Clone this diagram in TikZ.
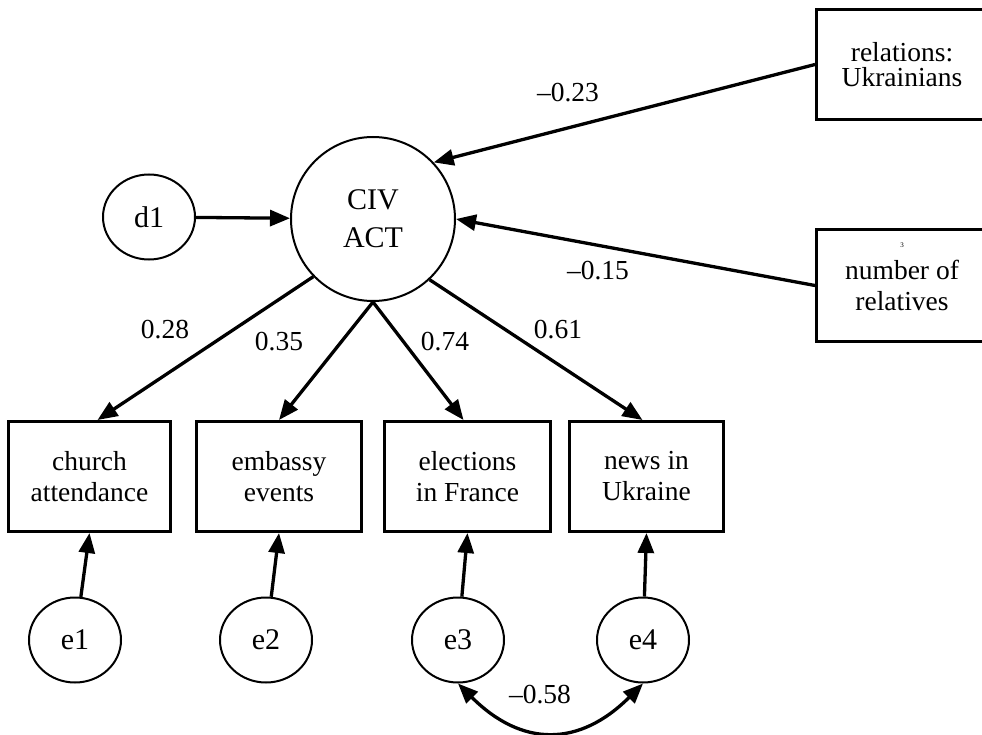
\documentclass[tikz,border=0pt]{standalone}
\usepackage{fontspec}
\setmainfont{Liberation Serif}
\usetikzlibrary{arrows.meta,positioning,shapes.geometric}

\begin{document}
\begin{tikzpicture}[x=1pt,y=-1pt,
    var/.style={rectangle,draw,line width=3pt,minimum height=110pt,inner sep=0pt,align=center,font=\fontsize{27.5}{31}\selectfont},
    err/.style={ellipse,draw,line width=2pt,minimum width=92pt,minimum height=85pt,inner sep=0pt,font=\fontsize{30}{31}\selectfont},
    coef/.style={font=\fontsize{27.5}{31}\selectfont},
    arr/.style={->,line width=3.3pt},
    >={Triangle[length=20pt,width=16pt]}]
    \useasboundingbox (0,0) rectangle (982,735);
    % latent variable and its disturbance
    \node(civ)[circle,draw,line width=2pt,minimum size=164pt,inner sep=0pt,align=center,font=\fontsize{30}{38}\selectfont] at (373,219) {CIV\\ACT};
    \node(d1)[err] at (149,217) {d1};
    % predictors
    \node(rel)[var,minimum width=171pt,font=\fontsize{27.5}{25}\selectfont] at (902,64.5) {relations:\\Ukrainians};
    \node(num)[var,minimum width=171pt,minimum height=112pt] at (902,285.5) {number of\\relatives};
    \node(sup)[font=\fontsize{7}{8}\selectfont,above=34pt of num.center] {3};
    % indicators
    \node(ch)[var,minimum width=162pt] at (89.5,476.5) {church\\attendance};
    \node(em)[var,minimum width=165pt] at (279,476.5) {embassy\\events};
    \node(el)[var,minimum width=166pt] at (467.5,476.5) {elections\\in France};
    \node(nw)[var,minimum width=154pt] at (646.5,476.5) {news in\\Ukraine};
    \node(e1)[err] at (75,640) {e1};
    \node(e2)[err] at (266,640) {e2};
    \node(e3)[err] at (458,640) {e3};
    \node(e4)[err] at (643,640) {e4};
    % coefficients
    \node(crel)[coef] at (568,93) {–0.23};
    \node(cnum)[coef] at (598,271) {–0.15};
    \node(cch)[coef] at (165,330) {0.28};
    \node(cem)[coef] at (279,342) {0.35};
    \node(cel)[coef] at (445,342) {0.74};
    \node(cnw)[coef] at (558,330) {0.61};
    \node(cee)[coef] at (540,695) {–0.58};
    % paths
    \draw[arr] (d1) -- (civ);
    \draw[arr] (rel.west) -- (civ.43);
    \draw[arr] (num.west) -- (civ.east);
    \draw[arr] (civ.224) -- ([xshift=8pt]ch.north);
    \draw[arr] (civ.south) -- (em.north);
    \draw[arr] (civ.south) -- ([xshift=-4pt]el.north);
    \draw[arr] (civ.313) -- ([xshift=-4pt]nw.north);
    \foreach \e/\v in {e1/ch,e2/em,e3/el,e4/nw}
        \draw[arr] (\e) -- (\v.south);
    \draw[arr,<->] (e3.south) to[out=-45,in=-135,looseness=1.25] (e4.south);
\end{tikzpicture}
\end{document}
